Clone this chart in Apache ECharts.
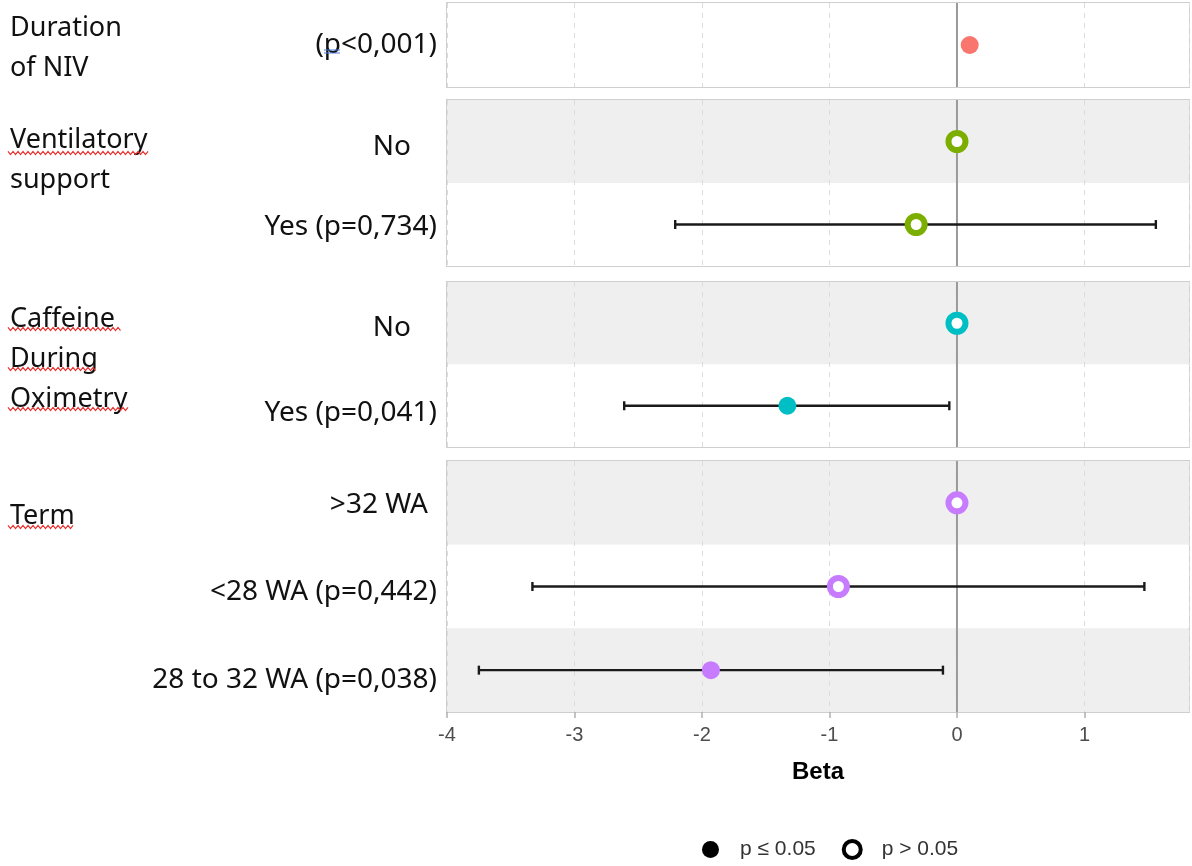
<!DOCTYPE html>
<html>
<head>
<meta charset="utf-8">
<script src="https://cdn.jsdelivr.net/npm/echarts@6/dist/echarts.min.js"></script>
<style>
  html, body { margin: 0; padding: 0; background: #ffffff; }
  #chart { width: 1192px; height: 866px; }
</style>
</head>
<body>
<div id="chart"></div>
<script>
// ---------- data ----------
const groupNames = ['Duration\nof NIV', 'Ventilatory\nsupport', 'Caffeine\nDuring\nOximetry', 'Term'];
const rowLabels = [
  ['(p<0,001)'],
  ['No', 'Yes (p=0,734)'],
  ['No', 'Yes (p=0,041)'],
  ['>32 WA', '<28 WA (p=0,442)', '28 to 32 WA (p=0,038)']
];
const betas = [
  [0.10],
  [0, -0.32],
  [0, -1.33],
  [0, -0.93, -1.93]
];
const ciLow = [
  [null],
  [null, -2.21],
  [null, -2.61],
  [null, -3.33, -3.75]
];
const ciHigh = [
  [null],
  [null, 1.56],
  [null, -0.06],
  [null, 1.47, -0.11]
];
const significant = [
  [true],
  [false, false],
  [false, true],
  [false, false, true]
];
const groupColors = ['#F8766D', '#7CAE00', '#00BFC4', '#C77CFF'];
const referenceLine = 0;
const xMin = -4, xMax = 1.82, xInterval = 1;
const xTitle = 'Beta';
const legendNames = ['p \u2264 0.05', 'p > 0.05'];

// ---------- layout ----------
const gridLeft = 447, gridRight = 3;
const gridTops = [3, 100, 282, 461];
const gridHeights = [84, 166, 165, 251];
const groupLabelY = [48, 160, 359, 516];
const labelFont = 'Noto Sans';
// per-row label nudges: [down shift px, right padding px]
const labelNudge = [
  [[0, 0]],
  [[6, 26], [3, 0]],
  [[5, 26], [7, 0]],
  [[2, 9], [6, 0], [10, 0]]
];
// spell-check style underlines under the group labels [x0, x1, y]
const squiggles = [[8, 148, 153], [8, 121, 329], [8, 96, 369], [8, 129, 409], [8, 75, 527]];

const chart = echarts.init(document.getElementById('chart'), null, { renderer: 'canvas' });

const grids = [], xAxes = [], yAxes = [], series = [];
for (let g = 0; g < groupNames.length; g++) {
  const last = g === groupNames.length - 1;
  grids.push({
    left: gridLeft, right: gridRight, top: gridTops[g], height: gridHeights[g],
    show: true, borderColor: '#cfcfcf', borderWidth: 2, backgroundColor: 'transparent'
  });
  xAxes.push({
    type: 'value', gridIndex: g, min: xMin, max: xMax, interval: xInterval,
    axisLine: { show: false },
    axisTick: { show: last, length: 6, lineStyle: { color: '#b0b0b0', width: 1.5 } },
    axisLabel: {
      show: last, showMaxLabel: false, color: '#4d4d4d', fontSize: 20,
      fontFamily: 'Liberation Sans', margin: 13
    },
    splitLine: { show: true, lineStyle: { color: '#dcdcdc', type: [5, 5], width: 1 } },
    name: last ? xTitle : '', nameLocation: 'middle', nameGap: 48,
    nameTextStyle: { fontSize: 24, fontWeight: 'bold', color: '#000', fontFamily: 'Liberation Sans' }
  });
  const rich = {};
  labelNudge[g].forEach(function (n, i) {
    rich['t' + i] = {
      fontFamily: labelFont, fontSize: 28, color: '#111',
      padding: [2 * n[0], n[1], 0, 0]
    };
  });
  yAxes.push({
    type: 'category', gridIndex: g, data: rowLabels[g], inverse: true,
    axisLine: { show: false }, axisTick: { show: false },
    splitLine: { show: false },
    splitArea: { show: true, areaStyle: { color: g === 0 ? ['#ffffff'] : ['#efefef', '#ffffff'] } },
    axisLabel: {
      margin: 10,
      formatter: function (v, i) { return '{t' + i + '|' + v + '}'; },
      rich: rich
    }
  });

  const errData = [], ptData = [];
  for (let r = 0; r < rowLabels[g].length; r++) {
    if (ciLow[g][r] !== null) errData.push([ciLow[g][r], ciHigh[g][r], r]);
    const col = groupColors[g];
    ptData.push({
      value: [betas[g][r], r],
      symbolSize: significant[g][r] ? 18 : 17,
      itemStyle: significant[g][r]
        ? { color: col, borderWidth: 0, opacity: 1 }
        : { color: '#ffffff', borderColor: col, borderWidth: 6, opacity: 1 }
    });
  }
  // zero reference line
  series.push({
    type: 'custom', xAxisIndex: g, yAxisIndex: g, z: 2, silent: true,
    data: [[referenceLine, 0]],
    renderItem: function (params, api) {
      const p = api.coord([api.value(0), 0]);
      const cs = params.coordSys;
      return {
        type: 'line',
        shape: { x1: p[0], y1: cs.y, x2: p[0], y2: cs.y + cs.height },
        style: { stroke: '#9a9a9a', lineWidth: 2 }
      };
    }
  });
  // error bars
  series.push({
    type: 'custom', xAxisIndex: g, yAxisIndex: g, z: 3, silent: true,
    data: errData,
    renderItem: function (params, api) {
      const a = api.coord([api.value(0), api.value(2)]);
      const b = api.coord([api.value(1), api.value(2)]);
      const st = { stroke: '#1a1a1a', lineWidth: 2.4 };
      return {
        type: 'group',
        children: [
          { type: 'line', shape: { x1: a[0], y1: a[1], x2: b[0], y2: b[1] }, style: st },
          { type: 'line', shape: { x1: a[0], y1: a[1] - 4.5, x2: a[0], y2: a[1] + 4.5 }, style: st },
          { type: 'line', shape: { x1: b[0], y1: b[1] - 4.5, x2: b[0], y2: b[1] + 4.5 }, style: st }
        ]
      };
    }
  });
  series.push({
    type: 'scatter', xAxisIndex: g, yAxisIndex: g, z: 5, silent: true,
    symbol: 'circle', data: ptData, itemStyle: { opacity: 1 }
  });
}
// legend-only series
series.push({ type: 'scatter', name: legendNames[0], xAxisIndex: 3, yAxisIndex: 3, data: [], itemStyle: { color: '#000', opacity: 1 } });
series.push({ type: 'scatter', name: legendNames[1], xAxisIndex: 3, yAxisIndex: 3, data: [], itemStyle: { color: '#fff', borderColor: '#000', borderWidth: 4, opacity: 1 } });

const graphics = groupNames.map(function (name, i) {
  return {
    type: 'text', left: 10, top: groupLabelY[i] - (name.split('\n').length * 40) / 2,
    style: { text: name, fontFamily: labelFont, fontSize: 27, fill: '#111', lineHeight: 40 }
  };
});
function wavePoints(x0, x1, y) {
  const pts = [];
  let up = true;
  for (let x = x0; x <= x1; x += 2.5) { pts.push([x, up ? y - 1.6 : y + 1.6]); up = !up; }
  return pts;
}
squiggles.forEach(function (s) {
  graphics.push({
    type: 'polyline', silent: true, z: 10,
    shape: { points: wavePoints(s[0], s[1], s[2]) },
    style: { stroke: '#e8312f', lineWidth: 1.2, fill: null }
  });
});
// blue double underline under the "p" of (p<0,001)
graphics.push({ type: 'line', silent: true, z: 10, shape: { x1: 324, y1: 50, x2: 340, y2: 50 }, style: { stroke: '#4a7bd8', lineWidth: 1 } });
graphics.push({ type: 'line', silent: true, z: 10, shape: { x1: 324, y1: 53, x2: 340, y2: 53 }, style: { stroke: '#4a7bd8', lineWidth: 1 } });

chart.setOption({
  animation: false,
  backgroundColor: '#ffffff',
  grid: grids,
  xAxis: xAxes,
  yAxis: yAxes,
  series: series,
  graphic: graphics,
  legend: {
    left: 697, top: 834,
    itemWidth: 17, itemHeight: 17, itemGap: 26,
    icon: 'circle',
    textStyle: { fontSize: 21, color: '#333', fontFamily: 'Liberation Sans', padding: [0, 0, 0, 16] },
    data: [
      { name: legendNames[0], itemStyle: { color: '#000', borderWidth: 0 } },
      { name: legendNames[1], itemStyle: { color: '#fff', borderColor: '#000', borderWidth: 4 } }
    ]
  }
});
</script>
</body>
</html>
